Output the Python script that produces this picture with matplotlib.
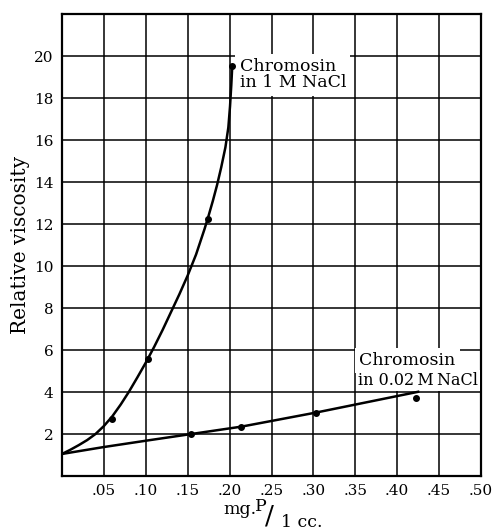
import numpy as np
import matplotlib.pyplot as plt

plt.rcParams['font.family'] = ['DejaVu Serif']

# points (mg P per cc, relative viscosity)
high_salt_x = [0.060, 0.1024, 0.1746, 0.2032]
high_salt_y = [2.71, 5.56, 12.24, 19.54]
low_salt_x = [0.1544, 0.214, 0.303, 0.423]
low_salt_y = [2.0, 2.35, 3.01, 3.70]

# drawn curves
high_curve_x = [0.0, 0.01, 0.02, 0.03, 0.04, 0.05, 0.06, 0.07, 0.08, 0.09, 0.10,
                0.11, 0.12, 0.13, 0.14, 0.15, 0.16, 0.17, 0.1746, 0.18, 0.185,
                0.19, 0.195, 0.1985, 0.2005, 0.2020, 0.2032]
high_curve_y = [1.05, 1.25, 1.47, 1.71, 2.0, 2.38, 2.84, 3.40, 4.02, 4.70, 5.40,
                6.15, 6.95, 7.80, 8.65, 9.55, 10.55, 11.75, 12.35, 13.10, 13.85,
                14.70, 15.65, 16.60, 17.60, 18.60, 19.54]
low_curve_x = [0.0, 0.05, 0.10, 0.1544, 0.214, 0.303, 0.425]
low_curve_y = [1.05, 1.38, 1.68, 2.0, 2.35, 3.02, 4.01]

x_ticks = [0.05, 0.10, 0.15, 0.20, 0.25, 0.30, 0.35, 0.40, 0.45, 0.50]
x_tick_labels = ['.05', '.10', '.15', '.20', '.25', '.30', '.35', '.40', '.45', '.50']
y_ticks = [2, 4, 6, 8, 10, 12, 14, 16, 18, 20]

fig = plt.figure(figsize=(4.92, 5.31), dpi=100)
ax = fig.add_axes([62/492, 1-476/531, (481-62)/492, (476-14)/531])

ax.set_xlim(0, 0.5)
ax.set_ylim(0, 22)
ax.set_xticks(x_ticks)
ax.set_xticklabels(x_tick_labels)
ax.set_yticks(y_ticks)
ax.set_yticklabels([str(v) for v in y_ticks])
ax.set_xticks(np.arange(0, 0.501, 0.05), minor=True)
ax.set_yticks(np.arange(0, 22.1, 2), minor=True)
ax.tick_params(which='both', length=0, labelsize=11, pad=6)
ax.grid(True, which='both', color='black', linewidth=1.1)
for s in ax.spines.values():
    s.set_linewidth(1.6)

ax.plot(high_curve_x, high_curve_y, color='black', linewidth=1.8, zorder=7)
ax.plot(low_curve_x, low_curve_y, color='black', linewidth=1.8, zorder=7)
ax.plot(high_salt_x, high_salt_y, 'o', color='black', markersize=4, zorder=8)
ax.plot(low_salt_x, low_salt_y, 'o', color='black', markersize=4, zorder=8)

box = dict(facecolor='white', edgecolor='none', pad=3)
ax.text(0.212, 19.9, 'Chromosin\nin 1 M NaCl', fontsize=12.5, va='top', ha='left',
        linespacing=0.95, bbox=box, zorder=5)
ax.text(0.353, 4.35, 'in 0.02\u2009M\u2009NaCl', fontsize=11.5, va='baseline', ha='left',
        bbox=dict(facecolor='white', edgecolor='none', pad=1.5), zorder=5)
ax.text(0.355, 5.3, 'Chromosin', fontsize=12.5, va='baseline', ha='left',
        bbox=box, zorder=6)

ax.set_ylabel('Relative viscosity', fontsize=14.5, labelpad=3)

# x label written as mg.P / 1 cc.
fig.text(223/492, 1-514/531, 'mg.', fontsize=12.5, ha='left', va='baseline')
fig.text(255/492, 1-511/531, 'P', fontsize=12.5, ha='left', va='baseline')
fig.text(265/492, 1-524/531, '/', fontsize=19, ha='left', va='baseline')
fig.text(281/492, 1-527/531, '1 cc.', fontsize=12.5, ha='left', va='baseline')

fig.savefig('out.png', dpi=100)
